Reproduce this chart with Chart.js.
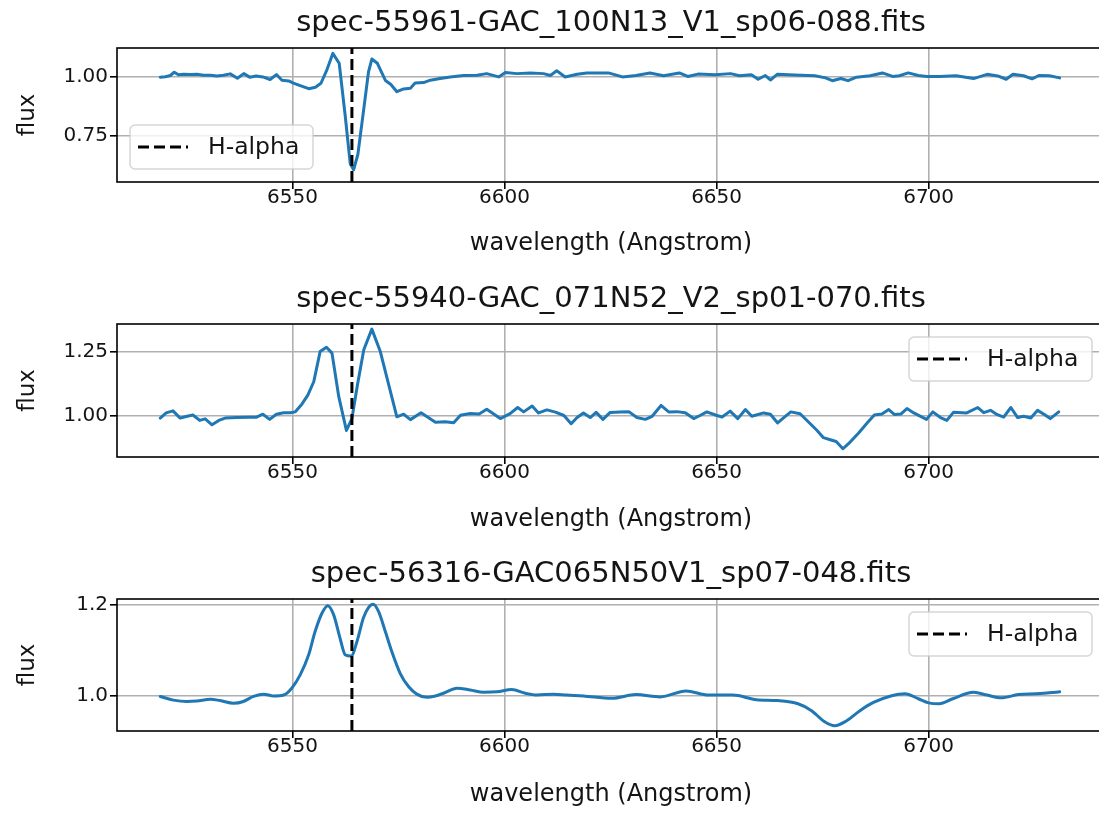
<!DOCTYPE html>
<html><head><meta charset="utf-8">
<script src="https://cdn.jsdelivr.net/npm/chart.js@4.4.1/dist/chart.umd.min.js"></script>
<style>
html,body{margin:0;padding:0;background:#fff;overflow:hidden;width:1099px;height:814px;}
canvas{position:absolute;left:0;}
</style></head><body>
<canvas id="c1" style="top:0px"></canvas>
<canvas id="c2" style="top:276px"></canvas>
<canvas id="c3" style="top:551px"></canvas>
<script>
// ---------- data ----------
const titles = ["spec-55961-GAC_100N13_V1_sp06-088.fits", "spec-55940-GAC_071N52_V2_sp01-070.fits", "spec-56316-GAC065N50V1_sp07-048.fits"];
const xLabel = "wavelength (Angstrom)";
const yLabel = "flux";
const lineLabel = "H-alpha";
const hAlpha = 6564.0;
const xTicks = [6550, 6600, 6650, 6700];
const xRange = [6508.6, 6741.6];

const yTicks1 = [0.75, 1.00];
const yTicks2 = [1.00, 1.25];
const yTicks3 = [1.0, 1.2];
const yRange1 = [0.553, 1.123];
const yRange2 = [0.842, 1.358];
const yRange3 = [0.9236, 1.2116];

const wave1 = [6518.8,6520.0,6521.2,6522.1,6523.1,6524.3,6525.9,6527.5,6529.0,6530.6,6532.2,6533.7,6535.3,6537.0,6538.5,6539.9,6541.4,6543.0,6544.7,6546.2,6547.5,6549.1,6550.2,6551.8,6553.8,6555.4,6556.7,6558.1,6559.5,6561.0,6562.4,6563.6,6564.4,6565.4,6566.7,6567.9,6568.7,6570.0,6571.9,6573.2,6574.6,6576.2,6577.8,6578.9,6580.9,6582.5,6584.8,6587.2,6590.3,6593.5,6595.8,6598.6,6600.2,6602.9,6606.1,6609.2,6610.8,6612.3,6614.3,6617.1,6619.4,6622.6,6624.5,6627.8,6631.0,6634.3,6637.5,6641.2,6643.2,6645.6,6649.7,6653.3,6655.4,6658.2,6659.8,6661.5,6662.7,6664.3,6668.4,6673.2,6675.7,6677.3,6679.3,6681.0,6683.0,6686.2,6689.1,6691.5,6693.1,6695.2,6697.6,6699.6,6702.5,6706.5,6710.6,6713.8,6716.3,6718.3,6719.9,6722.4,6724.4,6726.0,6728.5,6730.9];
const flux1 = [0.999,1.001,1.006,1.020,1.009,1.011,1.010,1.011,1.007,1.007,1.004,1.007,1.013,0.994,1.014,0.999,1.004,1.000,0.989,1.010,0.986,0.983,0.974,0.963,0.950,0.956,0.973,1.030,1.100,1.058,0.838,0.631,0.605,0.670,0.850,1.020,1.076,1.058,0.985,0.968,0.937,0.949,0.952,0.974,0.976,0.986,0.993,1.000,1.006,1.007,1.014,1.000,1.019,1.014,1.017,1.014,1.006,1.026,1.000,1.011,1.017,1.017,1.017,1.000,1.006,1.017,1.005,1.017,1.002,1.012,1.009,1.014,1.005,1.009,0.990,1.006,0.987,1.011,1.008,1.005,0.996,0.984,0.993,0.984,0.999,1.005,1.017,1.002,1.005,1.017,1.006,1.002,1.002,1.005,0.993,1.011,1.004,0.990,1.011,1.005,0.992,1.006,1.005,0.996];

const wave2 = [6518.8,6520.2,6521.8,6523.5,6524.9,6526.5,6528.1,6529.4,6531.0,6532.6,6534.1,6536.9,6540.0,6541.4,6543.0,6544.6,6546.2,6547.9,6549.5,6550.6,6552.2,6553.6,6555.0,6556.5,6558.0,6559.3,6560.9,6562.7,6564.0,6565.3,6566.8,6568.7,6570.7,6572.7,6574.6,6576.2,6577.8,6580.3,6583.7,6586.0,6588.0,6589.6,6591.9,6594.0,6595.8,6599.0,6601.3,6603.1,6604.5,6606.5,6608.0,6610.0,6612.0,6614.0,6615.7,6617.1,6618.6,6620.2,6621.6,6623.2,6624.9,6627.3,6629.3,6631.2,6633.2,6634.8,6636.9,6638.7,6640.6,6642.6,6644.6,6646.2,6647.7,6649.9,6651.3,6653.2,6655.0,6656.8,6658.3,6661.1,6662.7,6664.4,6666.0,6667.5,6669.7,6672.1,6673.7,6675.2,6676.8,6678.2,6679.8,6681.5,6683.5,6685.5,6687.2,6689.0,6690.6,6691.9,6693.5,6694.9,6696.5,6699.5,6701.0,6702.8,6704.3,6705.9,6709.0,6711.6,6713.0,6714.6,6716.1,6717.7,6719.4,6721.0,6722.4,6724.1,6725.7,6727.3,6728.7,6730.7];
const flux2 = [0.993,1.013,1.021,0.993,0.999,1.005,0.984,0.990,0.967,0.984,0.993,0.995,0.996,0.996,1.008,0.988,1.008,1.014,1.014,1.017,1.047,1.082,1.134,1.251,1.268,1.245,1.076,0.945,0.991,1.121,1.258,1.338,1.251,1.121,0.998,1.008,0.987,1.014,0.977,0.979,0.975,1.004,1.011,1.009,1.027,0.991,1.010,1.034,1.017,1.040,1.013,1.025,1.016,1.003,0.971,0.995,1.013,0.995,1.015,0.988,1.015,1.017,1.018,0.995,0.988,1.000,1.042,1.017,1.018,1.014,0.991,1.004,1.017,1.004,0.997,1.020,0.991,1.026,1.000,1.013,1.008,0.974,0.997,1.017,1.010,0.971,0.945,0.917,0.909,0.902,0.874,0.900,0.935,0.974,1.005,1.009,1.026,1.007,1.009,1.030,1.013,0.988,1.017,0.995,0.984,1.016,1.013,1.034,1.014,1.023,1.007,0.997,1.034,0.995,1.000,0.993,1.023,1.007,0.991,1.017];

const wave3 = [6518.8,6521.9,6525.1,6527.4,6530.6,6532.9,6536.1,6538.4,6540.8,6543.2,6545.5,6547.9,6549.8,6551.8,6553.8,6555.3,6556.9,6558.3,6559.7,6561.2,6562.4,6563.8,6565.2,6566.7,6567.9,6569.0,6570.3,6571.9,6573.4,6575.4,6577.4,6579.3,6581.7,6583.7,6585.6,6588.8,6591.9,6595.1,6598.2,6601.7,6604.9,6607.6,6611.6,6614.7,6618.6,6625.3,6631.0,6636.7,6642.8,6648.1,6653.8,6659.4,6664.3,6669.2,6672.4,6675.3,6677.9,6680.5,6683.8,6687.0,6691.1,6694.4,6697.6,6700.0,6702.5,6705.7,6710.6,6713.8,6717.1,6721.2,6725.2,6728.5,6730.9];
const flux3 = [0.999,0.991,0.988,0.989,0.993,0.990,0.984,0.988,0.999,1.004,1.000,1.002,1.017,1.046,1.090,1.140,1.180,1.197,1.177,1.126,1.090,1.087,1.119,1.170,1.193,1.200,1.184,1.140,1.097,1.049,1.020,1.004,0.997,1.000,1.006,1.017,1.013,1.008,1.009,1.014,1.006,1.002,1.004,1.002,1.000,0.995,1.003,0.998,1.011,1.002,1.002,0.992,0.990,0.983,0.968,0.945,0.935,0.945,0.968,0.986,1.000,1.005,0.994,0.985,0.983,0.994,1.008,1.002,0.996,1.003,1.005,1.007,1.009];

// ---------- style / layout ----------
const FONT = "'DejaVu Sans', sans-serif";
const TXT = '#141414';

const framePlugin = {
  id: 'frame',
  afterDatasetsDraw(chart) {
    const {ctx, chartArea: a} = chart;
    ctx.save();
    ctx.strokeStyle = '#000';
    ctx.lineWidth = 1.6;
    ctx.strokeRect(a.left, a.top, a.right - a.left, a.bottom - a.top);
    ctx.restore();
  }
};

const legendPlugin = {
  id: 'mplLegend',
  afterDraw(chart, args, opts) {
    const ds = chart.data.datasets.find(d => d.label === lineLabel);
    const {ctx, chartArea: a} = chart;
    const w = 183, h = 44, gap = 13;
    let x, y;
    if (opts.loc === 'lower left') { x = a.left + gap; y = a.bottom - gap - h; }
    else { x = a.right - gap - w; y = a.top + gap; }
    ctx.save();
    const r = 5;
    ctx.beginPath();
    ctx.moveTo(x + r, y);
    ctx.arcTo(x + w, y, x + w, y + h, r);
    ctx.arcTo(x + w, y + h, x, y + h, r);
    ctx.arcTo(x, y + h, x, y, r);
    ctx.arcTo(x, y, x + w, y, r);
    ctx.closePath();
    ctx.fillStyle = 'rgba(255,255,255,0.8)';
    ctx.fill();
    ctx.strokeStyle = 'rgba(204,204,204,0.8)';
    ctx.lineWidth = 1.5;
    ctx.stroke();
    ctx.beginPath();
    ctx.setLineDash(ds.borderDash);
    ctx.strokeStyle = ds.borderColor;
    ctx.lineWidth = ds.borderWidth;
    ctx.moveTo(x + 8, y + h / 2);
    ctx.lineTo(x + 58, y + h / 2);
    ctx.stroke();
    ctx.setLineDash([]);
    ctx.fillStyle = TXT;
    ctx.font = "23.5px " + FONT;
    ctx.textBaseline = 'middle';
    ctx.textAlign = 'left';
    ctx.fillText(ds.label, x + 78, y + h / 2 + 1);
    ctx.restore();
  }
};

function makePanel(id, p) {
  const canvas = document.getElementById(id);
  canvas.width = 1105;
  canvas.height = p.h;
  const spec = p.wave.map((w, i) => ({x: w, y: p.flux[i]}));
  const vline = [{x: hAlpha, y: p.yRange[0]}, {x: hAlpha, y: p.yRange[1]}];
  new Chart(canvas, {
    type: 'line',
    data: {
      datasets: [
        {label: 'spectrum', data: spec, borderColor: '#1f77b4', borderWidth: 3, pointRadius: 0,
         tension: p.smooth ? 0.4 : 0, cubicInterpolationMode: p.smooth ? 'monotone' : 'default',
         fill: false, order: 1, borderJoinStyle: 'round', borderCapStyle: 'round'},
        {label: lineLabel, data: vline, borderColor: '#000', borderWidth: 3, borderDash: [11, 5],
         pointRadius: 0, fill: false, order: 0}
      ]
    },
    options: {
      responsive: false, animation: false, devicePixelRatio: 1,
      layout: {padding: 0},
      plugins: {
        legend: {display: false},
        tooltip: {enabled: false},
        title: {display: true, text: p.title, color: TXT, fullSize: false,
                font: {family: FONT, size: 29, weight: 'normal', lineHeight: 1.2},
                padding: {top: 6.2, bottom: 7.0}},
        mplLegend: {loc: p.loc}
      },
      scales: {
        x: {
          type: 'linear', position: 'bottom', min: xRange[0], max: xRange[1],
          afterFit(s) { s.height = p.xh; },
          afterBuildTicks(s) { s.ticks = xTicks.map(v => ({value: v})); },
          ticks: {color: TXT, font: {family: FONT, size: 20, lineHeight: 1}, padding: -1, maxRotation: 0,
                  autoSkip: false, callback: v => String(v)},
          grid: {color: '#b0b0b0', lineWidth: 1.6, tickColor: '#000', tickLength: 7, drawTicks: true},
          border: {display: false},
          title: {display: true, text: xLabel, color: TXT, font: {family: FONT, size: 24, lineHeight: 1.2},
                  padding: {top: 0, bottom: p.xlpad}}
        },
        y: {
          type: 'linear', position: 'left', min: p.yRange[0], max: p.yRange[1],
          afterFit(s) { s.width = 117; },
          afterBuildTicks(s) { s.ticks = p.yTicks.map(v => ({value: v})); },
          ticks: {color: TXT, font: {family: FONT, size: 20}, padding: 2, autoSkip: false,
                  callback: v => v.toFixed(p.dec)},
          grid: {color: '#b0b0b0', lineWidth: 1.6, tickColor: '#000', tickLength: 7, drawTicks: true},
          border: {display: false},
          title: {display: true, text: yLabel, color: TXT, font: {family: FONT, size: 23, lineHeight: 1.2},
                  padding: {top: 14, bottom: 0}}
        }
      }
    },
    plugins: [framePlugin, legendPlugin]
  });
}

makePanel('c1', {h: 270, xh: 88, xlpad: 12.0, title: titles[0], wave: wave1, flux: flux1,
                 yRange: yRange1, yTicks: yTicks1, dec: 2, loc: 'lower left', smooth: false});
makePanel('c2', {h: 270, xh: 89, xlpad: 12.0, title: titles[1], wave: wave2, flux: flux2,
                 yRange: yRange2, yTicks: yTicks2, dec: 2, loc: 'upper right', smooth: false});
makePanel('c3', {h: 263, xh: 83, xlpad: 5.0, title: titles[2], wave: wave3, flux: flux3,
                 yRange: yRange3, yTicks: yTicks3, dec: 1, loc: 'upper right', smooth: true});
</script>
</body></html>
